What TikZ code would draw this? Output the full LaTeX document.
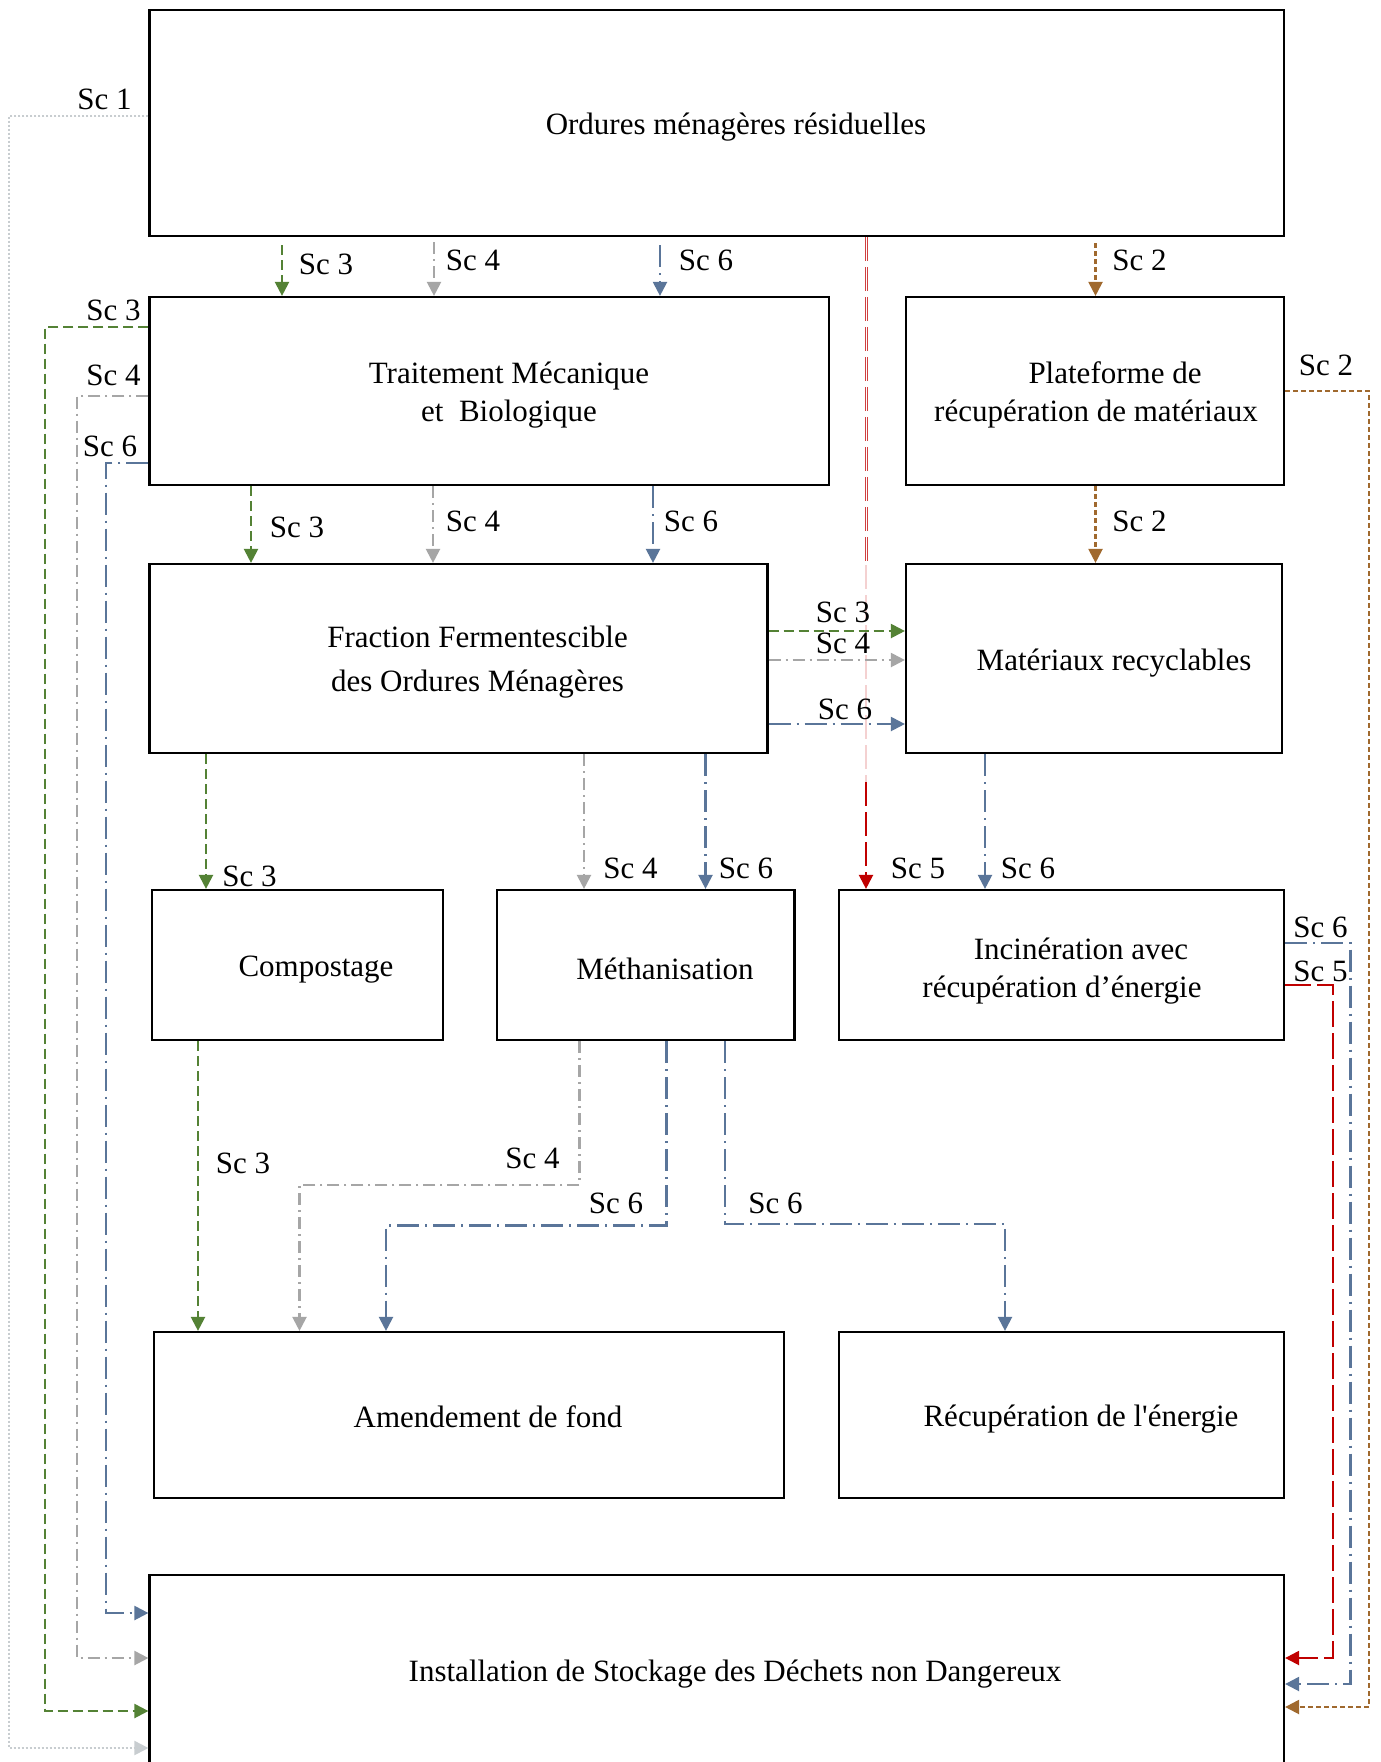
\documentclass[tikz,border=0pt]{standalone}
\usepackage{fontspec}
\setmainfont{Liberation Serif}
\usetikzlibrary{arrows.meta}
\definecolor{cgreen}{HTML}{548235}
\definecolor{cgray}{HTML}{A6A6A6}
\definecolor{cblue}{HTML}{5A7599}
\definecolor{cbrown}{HTML}{A0692E}
\definecolor{cred}{HTML}{C00000}
\definecolor{clight}{HTML}{C8CDD0}
\tikzset{
  box/.style={draw=black, line width=2.2pt, inner sep=0pt, fill=none},
  txt/.style={font=\fontsize{31}{38}\selectfont, align=center, inner sep=0pt},
  lbl/.style={font=\fontsize{31}{38}\selectfont, inner sep=0pt},
  tip/.style={-{Triangle[width=14pt,length=14pt]}},
  scone/.style={tip, draw=clight, line width=2pt, dash pattern=on 2pt off 2pt},
  sctwo/.style={tip, draw=cbrown, line width=2.2pt, dash pattern=on 5pt off 3pt},
  scthree/.style={tip, draw=cgreen, line width=2.2pt, dash pattern=on 10pt off 5pt},
  scfour/.style={tip, draw=cgray, line width=2.2pt, dash pattern=on 12pt off 5pt on 2pt off 5pt},
  scfive/.style={tip, draw=cred, line width=2.2pt, dash pattern=on 24pt off 6pt},
  scsix/.style={tip, draw=cblue, line width=2.2pt, dash pattern=on 22pt off 6pt on 2pt off 6pt},
}
\begin{document}
\begin{tikzpicture}[x=1pt,y=-1pt]
\useasboundingbox (0,0) rectangle (1381,1762);
\clip (0,0) rectangle (1381,1762);
\fill[white] (0,0) rectangle (1381,1762);

% boxes
\node[box, minimum width=1134.5pt, minimum height=226pt] (ord) at (716.75,123) {};
\node[box, minimum width=679.5pt, minimum height=188pt] (tmb) at (489.25,391) {};
\node[box, minimum width=378pt, minimum height=188pt] (plat) at (1095,391) {};
\node[box, minimum width=618pt, minimum height=189pt] (ffom) at (458.5,658.5) {};
\node[box, minimum width=376pt, minimum height=189pt] (mat) at (1094,658.5) {};
\node[box, minimum width=291pt, minimum height=150pt] (comp) at (297.5,965) {};
\node[box, minimum width=297.5pt, minimum height=150pt] (meth) at (645.75,965) {};
\node[box, minimum width=445pt, minimum height=150pt] (inc) at (1061.5,965) {};
\node[box, minimum width=630pt, minimum height=166pt] (amend) at (469,1415) {};
\node[box, minimum width=445pt, minimum height=166pt] (recup) at (1061.5,1415) {};
\node[box, minimum width=1134.5pt, minimum height=215pt] (isd) at (716.75,1682.5) {};

% texts
\node[txt] (tord) at (736,127.5) {Ordures ménagères résiduelles};
\node[txt] (ttmb) at (509,395) {Traitement Mécanique\\et\ \ Biologique};
\node[txt] (tplat) at (1096,395) {\hspace*{38pt}Plateforme de\\récupération de matériaux};
\node[txt, font=\fontsize{31}{44}\selectfont] (tffom) at (477.5,662.5) {Fraction Fermentescible\\des Ordures Ménagères};
\node[txt] (tmat) at (1114,663.5) {Matériaux recyclables};
\node[txt] (tcomp) at (316,970) {Compostage};
\node[txt] (tmeth) at (665,969) {Méthanisation};
\node[txt] (tinc) at (1062,971) {\hspace*{38pt}Incinération avec\\récupération d’énergie};
\node[txt] (tamend) at (488,1417) {Amendement de fond};
\node[txt] (trecup) at (1081,1419) {Récupération de l\textquotesingle énergie};
\node[txt] (tisd) at (735,1674.5) {Installation de Stockage des Déchets non Dangereux};

% Sc 1
\draw[scone] (ord.west |- 0,116) -| (9,1748) -- (isd.west |- 0,1748);
% from top box
\draw[scthree, shorten <=8pt] (282,0 |- ord.south) -- (282,0 |- tmb.north);
\draw[scfour, shorten <=5pt] (434,0 |- ord.south) -- (434,0 |- tmb.north);
\draw[scsix, shorten <=8pt] (660,0 |- ord.south) -- (660,0 |- tmb.north);
\draw[sctwo, shorten <=6pt] (1095.5,0 |- ord.south) -- (1095.5,0 |- plat.north);
% red Sc 5
\coordinate (ra) at (866,565);
\coordinate (rb) at (866,782);
\draw[draw=cred!75!white, line width=1pt, double=white, double distance=1pt, dash pattern=on 24pt off 6pt] (866,0 |- ord.south) -- (ra);
\draw[draw=cred!18!white, line width=2.5pt, dash pattern=on 24pt off 6pt] (ra) -- (rb);
\draw[scfive] (rb) -- (866,0 |- inc.north);
% TMB left side
\draw[scthree] (tmb.west |- 0,327) -| (45,1711) -- (isd.west |- 0,1711);
\draw[scfour] (tmb.west |- 0,396) -| (77,1658) -- (isd.west |- 0,1658);
\draw[scsix] (tmb.west |- 0,463) -| (106,1613) -- (isd.west |- 0,1613);
% TMB -> FFOM
\draw[scthree] (251,0 |- tmb.south) -- (251,0 |- ffom.north);
\draw[scfour] (433,0 |- tmb.south) -- (433,0 |- ffom.north);
\draw[scsix] (653,0 |- tmb.south) -- (653,0 |- ffom.north);
% Plateforme
\draw[sctwo] (1095.5,0 |- plat.south) -- (1095.5,0 |- mat.north);
\draw[sctwo] (plat.east |- 0,391) -| (1369,1707) -- (isd.east |- 0,1707);
% FFOM -> Materiaux
\draw[scthree] (ffom.east |- 0,631) -- (mat.west |- 0,631);
\draw[scfour] (ffom.east |- 0,660) -- (mat.west |- 0,660);
\draw[scsix] (ffom.east |- 0,724) -- (mat.west |- 0,724);
% FFOM -> row 4
\draw[scthree] (206,0 |- ffom.south) -- (206,0 |- comp.north);
\draw[scfour] (584,0 |- ffom.south) -- (584,0 |- meth.north);
\draw[scsix] (705.5,0 |- ffom.south) -- (705.5,0 |- meth.north);
\draw[scsix] (985,0 |- mat.south) -- (985,0 |- inc.north);
% Incineration right
\draw[scsix] (inc.east |- 0,943) -| (1350.5,1684) -- (isd.east |- 0,1684);
\draw[scfive, dash pattern=on 26pt off 6pt] (inc.east |- 0,985) -| (1333,1658) -- (isd.east |- 0,1658);
% row 4 -> row 5
\draw[scthree] (198,0 |- comp.south) -- (198,0 |- amend.north);
\draw[scfour] (579.5,0 |- meth.south) -- (579.5,1185) -| (299.5,0 |- amend.north);
\draw[scsix] (666.5,0 |- meth.south) -- (666.5,1225.5) -| (386,0 |- amend.north);
\draw[scsix] (724.7,0 |- meth.south) -- (724.7,1224) -| (1005,0 |- recup.north);

% labels
\node[lbl] (l1) at (104.5,99) {Sc 1};
\node[lbl] (l2) at (326,264) {Sc 3};
\node[lbl] (l3) at (473,260) {Sc 4};
\node[lbl] (l4) at (706,260) {Sc 6};
\node[lbl] (l5) at (1139.5,260) {Sc 2};
\node[lbl] (l6) at (113.5,310) {Sc 3};
\node[lbl] (l7) at (113.5,375) {Sc 4};
\node[lbl] (l8) at (110,446) {Sc 6};
\node[lbl] (l9) at (1326,365) {Sc 2};
\node[lbl] (l10) at (297,527) {Sc 3};
\node[lbl] (l11) at (473,521.5) {Sc 4};
\node[lbl] (l12) at (691,521.5) {Sc 6};
\node[lbl] (l13) at (1139.5,521.5) {Sc 2};
\node[lbl] (l14) at (843,612.5) {Sc 3};
\node[lbl] (l15) at (843,643) {Sc 4};
\node[lbl] (l16) at (845,709) {Sc 6};
\node[lbl] (l17) at (249.5,876.5) {Sc 3};
\node[lbl] (l18) at (630.5,868.5) {Sc 4};
\node[lbl] (l19) at (746,868.5) {Sc 6};
\node[lbl] (l20) at (918,868.5) {Sc 5};
\node[lbl] (l21) at (1028,868.5) {Sc 6};
\node[lbl] (l22) at (1320.5,927) {Sc 6};
\node[lbl] (l23) at (1320.5,971) {Sc 5};
\node[lbl] (l24) at (243,1163) {Sc 3};
\node[lbl] (l25) at (532.5,1158.5) {Sc 4};
\node[lbl] (l26) at (616,1203.5) {Sc 6};
\node[lbl] (l27) at (775.5,1203.5) {Sc 6};
\end{tikzpicture}
\end{document}
